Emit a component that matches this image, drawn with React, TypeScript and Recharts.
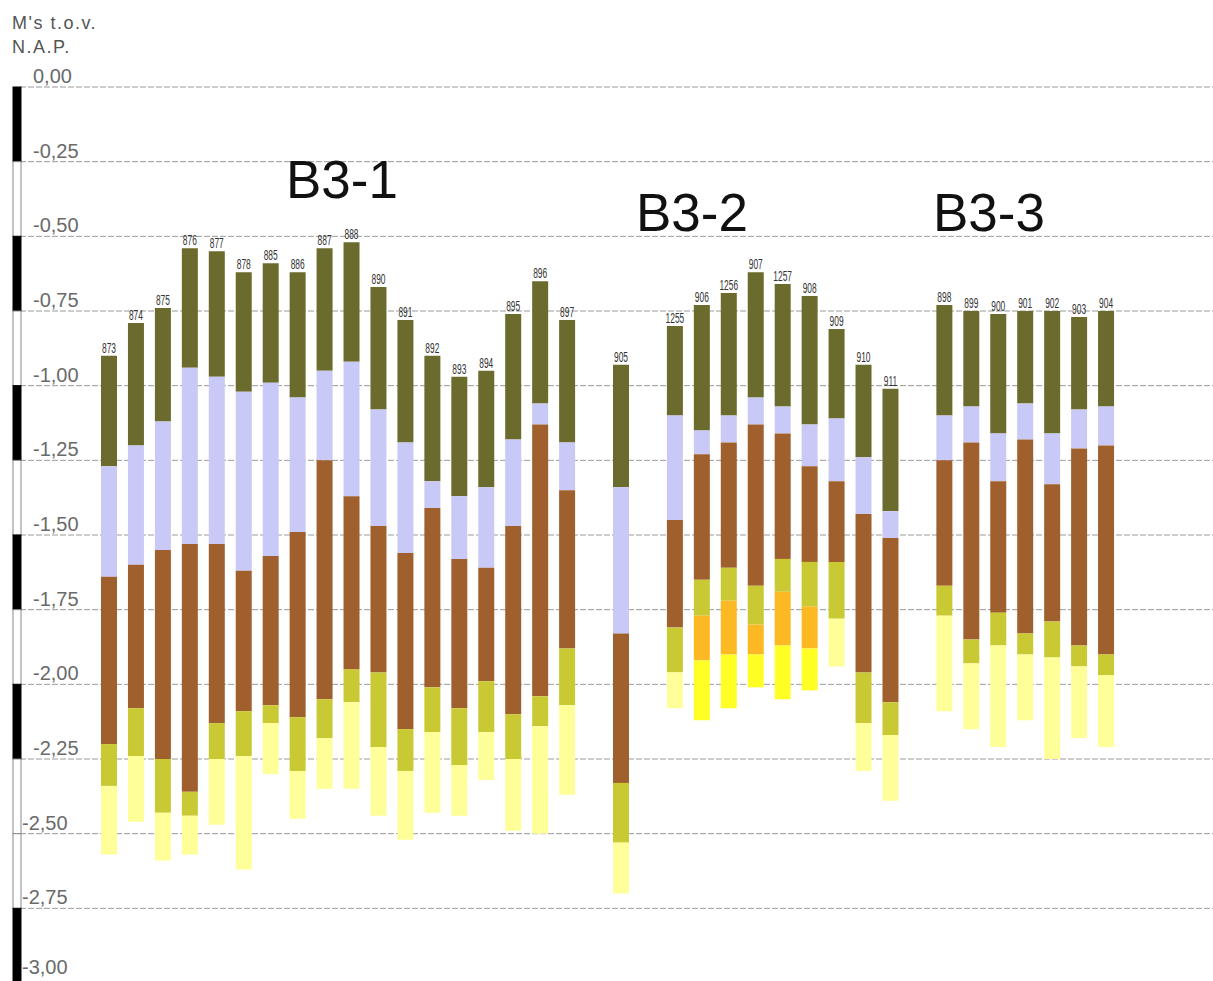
import { BarChart, Bar, XAxis, YAxis, CartesianGrid, LabelList } from "recharts"

// boring ids, left to right
const boreIds = [
  "873", "874", "875", "876", "877", "878", "885", "886", "887", "888", "890", "891", "892", "893", "894", "895", "896", "897",
  "905", "1255", "906", "1256", "907", "1257", "908", "909", "910", "911",
  "898", "899", "900", "901", "902", "903", "904",
]
// an empty slot follows these borings
const gapAfter = ["897", "905", "911"]

// levels in m t.o.v. NAP
const topLevel = [
  -0.90, -0.79, -0.74, -0.54, -0.55, -0.62, -0.59, -0.62, -0.54, -0.52, -0.67, -0.78, -0.90, -0.97, -0.95, -0.76, -0.65, -0.78,
  -0.93, -0.80, -0.73, -0.69, -0.62, -0.66, -0.70, -0.81, -0.93, -1.01,
  -0.73, -0.75, -0.76, -0.75, -0.75, -0.77, -0.75,
]
const oliveBase = [
  -1.27, -1.20, -1.12, -0.94, -0.97, -1.02, -0.99, -1.04, -0.95, -0.92, -1.08, -1.19, -1.32, -1.37, -1.34, -1.18, -1.06, -1.19,
  -1.34, -1.10, -1.15, -1.10, -1.04, -1.07, -1.13, -1.11, -1.24, -1.42,
  -1.10, -1.07, -1.16, -1.06, -1.16, -1.08, -1.07,
]
const lavenderBase = [
  -1.64, -1.60, -1.55, -1.53, -1.53, -1.62, -1.57, -1.49, -1.25, -1.37, -1.47, -1.56, -1.41, -1.58, -1.61, -1.47, -1.13, -1.35,
  -1.83, -1.45, -1.23, -1.19, -1.13, -1.16, -1.27, -1.32, -1.43, -1.51,
  -1.25, -1.19, -1.32, -1.18, -1.33, -1.21, -1.20,
]
const brownBase = [
  -2.20, -2.08, -2.25, -2.36, -2.13, -2.09, -2.07, -2.11, -2.05, -1.95, -1.96, -2.15, -2.01, -2.08, -1.99, -2.10, -2.04, -1.88,
  -2.33, -1.81, -1.65, -1.61, -1.67, -1.58, -1.59, -1.59, -1.96, -2.06,
  -1.67, -1.85, -1.76, -1.83, -1.79, -1.87, -1.90,
]
const greenBase = [
  -2.34, -2.24, -2.43, -2.44, -2.25, -2.24, -2.13, -2.29, -2.18, -2.06, -2.21, -2.29, -2.16, -2.27, -2.16, -2.25, -2.14, -2.07,
  -2.53, -1.96, -1.77, -1.72, -1.80, -1.69, -1.74, -1.78, -2.13, -2.17,
  -1.77, -1.93, -1.87, -1.90, -1.91, -1.94, -1.97,
]
const orangeBase = [
  null, null, null, null, null, null, null, null, null, null, null, null, null, null, null, null, null, null,
  null, null, -1.92, -1.90, -1.90, -1.87, -1.88, null, null, null,
  null, null, null, null, null, null, null,
]
const yellowBase = [
  null, null, null, null, null, null, null, null, null, null, null, null, null, null, null, null, null, null,
  null, null, -2.12, -2.08, -2.01, -2.05, -2.02, null, null, null,
  null, null, null, null, null, null, null,
]
const paleBase = [
  -2.57, -2.46, -2.59, -2.57, -2.47, -2.62, -2.30, -2.45, -2.35, -2.35, -2.44, -2.52, -2.43, -2.44, -2.32, -2.49, -2.50, -2.37,
  -2.70, -2.08, null, null, null, null, null, -1.94, -2.29, -2.39,
  -2.09, -2.15, -2.21, -2.12, -2.25, -2.18, -2.21,
]

const yTicks = [0, -0.25, -0.5, -0.75, -1, -1.25, -1.5, -1.75, -2, -2.25, -2.5, -2.75, -3]

const layers = [
  { key: "olive", base: oliveBase, color: "#6B6B2D" },
  { key: "lavender", base: lavenderBase, color: "#C9C9F7" },
  { key: "brown", base: brownBase, color: "#A0602E" },
  { key: "green", base: greenBase, color: "#C9C933" },
  { key: "orange", base: orangeBase, color: "#FDB923" },
  { key: "yellow", base: yellowBase, color: "#FFFF26" },
  { key: "pale", base: paleBase, color: "#FFFF99" },
]

const W = 1213
const H = 990
const MARGIN = { top: 87, right: 0, bottom: 7, left: 0 }
const SEG_H = (H - MARGIN.top - MARGIN.bottom) / 12
const BLACK_SEGS = [0, 2, 4, 6, 8, 11]
const FONT = "'Liberation Sans', Arial, sans-serif"

const rows: Record<string, number | string>[] = []
boreIds.forEach((id, i) => {
  const row: Record<string, number | string> = { slot: rows.length, id, base: topLevel[i] }
  let prev = topLevel[i]
  layers.forEach((l) => {
    const b = l.base[i]
    if (b == null) {
      row[l.key] = 0
    } else {
      row[l.key] = +(b - prev).toFixed(3)
      prev = b
    }
  })
  rows.push(row)
  if (gapAfter.includes(id)) {
    const blank: Record<string, number | string> = { slot: rows.length, id: "", base: 0 }
    layers.forEach((l) => (blank[l.key] = 0))
    rows.push(blank)
  }
})

function AxisTick(props: any) {
  const { y, payload } = props
  const v = payload.value as number
  const i = Math.round(-v / 0.25)
  const black = BLACK_SEGS.includes(i)
  return (
    <g>
      {i < 12 && (
        <rect x={13} y={y} width={8} height={SEG_H} fill={black ? "#000" : "#fff"} stroke={black ? "#000" : "#888"} strokeWidth={1} />
      )}
      <text x={i >= 10 ? 22 : 33} y={i === 12 ? y - 9 : y - 4} fill="#6a6a6a" fontSize={20} fontFamily={FONT}>
        {v.toFixed(2).replace(".", ",")}
      </text>
    </g>
  )
}

function BoreLabel(props: any) {
  const { x, y, width, height, value } = props
  if (!value) return null
  const bottom = Math.max(y, y + height)
  const cx = x + width / 2
  return (
    <text transform={`translate(${cx},${bottom - 3}) scale(0.6,1)`} textAnchor="middle" fontSize={14} fill="#333" fontFamily={FONT}>
      {value}
    </text>
  )
}

export default function App() {
  return (
    <div style={{ position: "absolute", left: 0, top: 0, width: W, height: 981, overflow: "hidden", background: "#fff" }}>
      <BarChart width={W} height={H} data={rows} margin={MARGIN} barSize={16}>
        <CartesianGrid vertical={false} stroke="#9a9a9a" strokeDasharray="6 2" />
        <XAxis dataKey="slot" type="category" hide padding={{ left: 76, right: 93 }} />
        <YAxis
          width={20}
          domain={[-3, 0]}
          ticks={yTicks}
          interval={0}
          axisLine={false}
          tickLine={false}
          tick={<AxisTick />}
        />
        <Bar dataKey="base" stackId="a" fill="transparent" isAnimationActive={false}>
          <LabelList dataKey="id" content={<BoreLabel />} />
        </Bar>
        {layers.map((l) => (
          <Bar key={l.key} dataKey={l.key} stackId="a" fill={l.color} isAnimationActive={false} />
        ))}
      </BarChart>
      <svg style={{ position: "absolute", left: 0, top: 0, pointerEvents: "none" }} width={W} height={981}>
        <g fontFamily={FONT} fill="#555" fontSize={18} letterSpacing={1.5}>
          <text x={12} y={29}>M's t.o.v.</text>
          <text x={12} y={53}>N.A.P.</text>
        </g>
        <g fontFamily={FONT} fill="#111" fontSize={53}>
          <text x={286} y={198}>B3-1</text>
          <text x={636} y={231}>B3-2</text>
          <text x={933} y={231}>B3-3</text>
        </g>
      </svg>
    </div>
  )
}
